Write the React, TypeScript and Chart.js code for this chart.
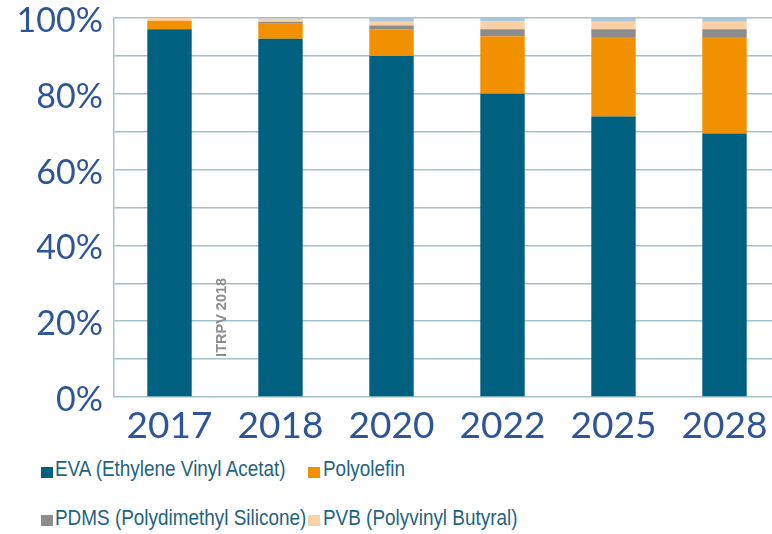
import React, { useEffect, useRef } from "react";
import { Chart, registerables } from "chart.js";

Chart.register(...registerables);

const years = ["2017", "2018", "2020", "2022", "2025", "2028"];
const eva = [97, 94.5, 90, 80, 74, 69.5];
const polyolefin = [2.3, 4, 7, 15.2, 21, 25.5];
const pdms = [0, 0.5, 1, 1.8, 2, 2];
const pvb = [0.7, 0.8, 1, 2.1, 2, 2];
const other = [0, 0.2, 1, 0.9, 1, 1];
const yTicks = [0, 20, 40, 60, 80, 100];

const legendItems = [
  { label: "EVA (Ethylene Vinyl Acetat)", color: "#00607f" },
  { label: "Polyolefin", color: "#f29100" },
  { label: "PDMS (Polydimethyl Silicone)", color: "#8c8c8c" },
  { label: "PVB (Polyvinyl Butyral)", color: "#fbd1a8" },
];

const gridColor = "#a3c2cc";

const watermark = {
  id: "watermark",
  afterDatasetsDraw(chart: any) {
    const { ctx, scales } = chart;
    const x = scales.x.getPixelForValue(0) + 52;
    const y = scales.y.getPixelForValue(21);
    ctx.save();
    ctx.translate(x, y);
    ctx.rotate(-Math.PI / 2);
    ctx.font = "bold 14.5px 'Liberation Sans', Arial, sans-serif";
    ctx.fillStyle = "#8d8d8d";
    ctx.textAlign = "center";
    ctx.textBaseline = "middle";
    ctx.fillText("ITRPV 2018", 0, 0);
    ctx.restore();
  },
};

export default function App() {
  const ref = useRef<HTMLCanvasElement>(null);
  useEffect(() => {
    if (!ref.current) return;
    const chart = new Chart(ref.current, {
      type: "bar",
      data: {
        labels: years,
        datasets: [
          { label: legendItems[0].label, data: eva, backgroundColor: "#00607f" },
          { label: legendItems[1].label, data: polyolefin, backgroundColor: "#f29100" },
          { label: legendItems[2].label, data: pdms, backgroundColor: "#8c8c8c" },
          { label: legendItems[3].label, data: pvb, backgroundColor: "#fbd1a8" },
          { label: "Other", data: other, backgroundColor: "#a9c6da" },
        ],
      },
      options: {
        animation: false,
        responsive: false,
        maintainAspectRatio: false,
        layout: { padding: { top: 18, right: 10, left: 0, bottom: 0 } },
        plugins: { legend: { display: false }, tooltip: { enabled: false } },
        datasets: { bar: { categoryPercentage: 1, barPercentage: 0.4 } },
        scales: {
          x: {
            stacked: true,
            grid: { display: false },
            border: { display: false },
            ticks: {
              color: "#2e5597",
              font: { family: "Lato", size: 37, lineHeight: 1 },
              padding: 3,
            },
            afterFit: (s: any) => {
              s.height = 43;
            },
          },
          y: {
            stacked: true,
            min: 0,
            max: 100,
            grid: {
              color: gridColor,
              drawTicks: true,
              tickLength: 11,
              tickColor: "rgba(0,0,0,0)",
              lineWidth: 1.5,
            },
            border: { color: gridColor, width: 1.5 },
            ticks: {
              stepSize: 10,
              color: "#2e5597",
              font: { family: "Lato", size: 34, lineHeight: 1 },
              padding: 0,
              labelOffset: 3,
              callback: (v: any) => (yTicks.includes(Number(v)) ? v + "%" : ""),
            },
            afterFit: (s: any) => {
              s.width = 114;
            },
          },
        },
      },
      plugins: [watermark],
    });
    return () => chart.destroy();
  }, []);

  const pos = [
    { sq: 41, tx: 55, row: 0 },
    { sq: 308, tx: 323, row: 0 },
    { sq: 41, tx: 55, row: 1 },
    { sq: 308, tx: 323, row: 1 },
  ];

  return (
    <div
      style={{
        position: "fixed",
        left: 0,
        top: 0,
        width: 772,
        height: 534,
        overflow: "hidden",
        background: "#fff",
      }}
    >
      <canvas ref={ref} width={790} height={440} style={{ display: "block", width: 790, height: 440 }} />
      {legendItems.map((it, i) => {
        const p = pos[i];
        const top = p.row === 0 ? 458 : 507;
        const sqTop = p.row === 0 ? 467 : 515;
        return (
          <React.Fragment key={it.label}>
            <div
              style={{
                position: "absolute",
                left: p.sq,
                top: sqTop,
                width: 12,
                height: 11,
                background: it.color,
              }}
            />
            <div
              style={{
                position: "absolute",
                left: p.tx,
                top,
                lineHeight: "22px",
                fontSize: 22,
                whiteSpace: "nowrap",
                fontFamily: "'Liberation Sans', Arial, sans-serif",
                transform: "scaleX(0.86)",
                transformOrigin: "0 0",
                color: "#1f6480",
              }}
            >
              {it.label}
            </div>
          </React.Fragment>
        );
      })}
    </div>
  );
}
